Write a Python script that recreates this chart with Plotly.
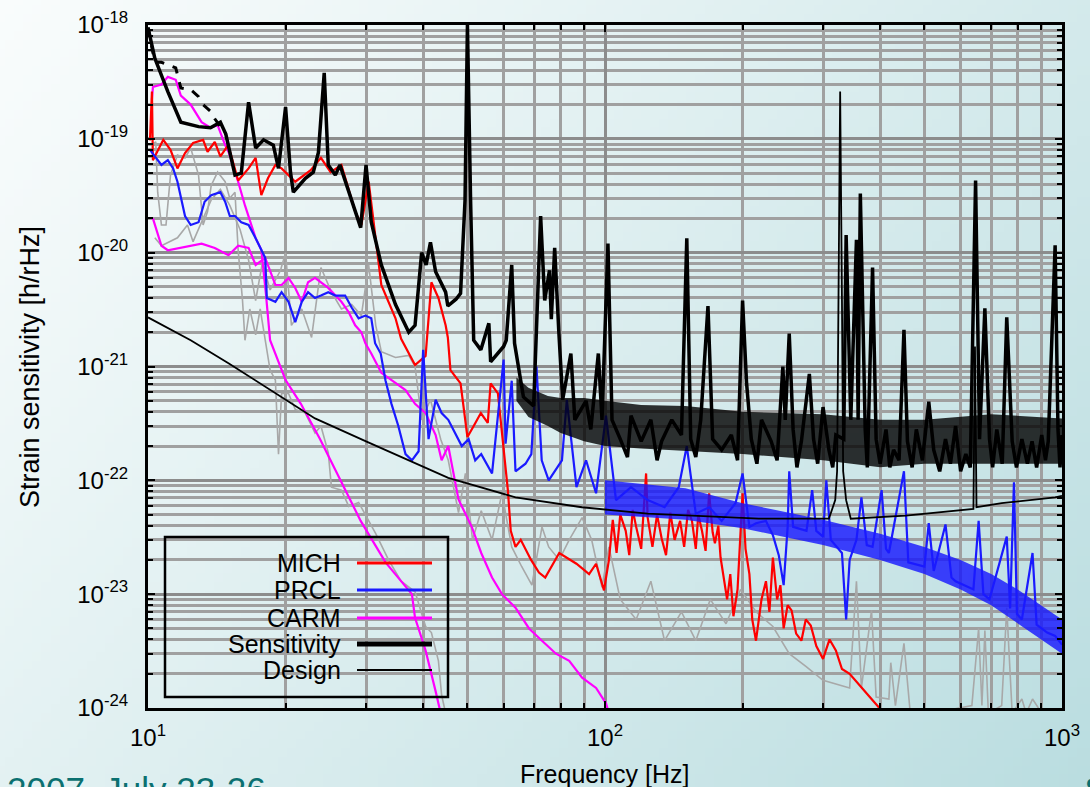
import base64, struct, zlib
import plotly.graph_objects as go

# ---------------- data (frequency [Hz], strain [1/rtHz]) ----------------
sensitivity = [
    (10.0, 9.5e-19), (10.35, 5.1e-19), (11.05, 2.6e-19), (11.8, 1.4e-19), (12.9, 1.28e-19),
    (13.7, 1.25e-19), (14.4, 1.4e-19), (14.8, 1.1e-19), (15.5, 4.8e-20), (16.0, 5.0e-20),
    (16.6, 2.1e-19), (17.2, 8.3e-20), (17.9, 9.8e-20), (18.8, 8.8e-20), (19.3, 5.5e-20),
    (20.0, 1.9e-19), (20.5, 5.1e-20), (20.8, 3.4e-20), (22.1, 4.5e-20), (23.0, 5.1e-20),
    (23.6, 7.6e-20), (24.3, 3.8e-19), (24.8, 5.9e-20), (25.7, 4.8e-20), (26.3, 5.9e-20),
    (27.5, 3.4e-20), (29.2, 1.66e-20), (30.0, 5.9e-20), (30.8, 1.86e-20), (32.4, 7.8e-21),
    (34.8, 3.5e-21), (37.2, 2.0e-21), (38.4, 2.3e-21), (39.7, 1.0e-20), (40.6, 7.8e-21),
    (41.5, 1.23e-20), (42.6, 6.8e-21), (44.8, 4.5e-21), (45.3, 3.4e-21), (47.2, 3.9e-21),
    (48.3, 4.4e-21), (49.4, 2.9e-20), (50.0, 1.0e-18), (50.8, 2.9e-20), (51.6, 1.7e-21),
    (53.5, 1.4e-21), (55.7, 2.4e-21), (56.2, 1.1e-21), (60.0, 1.5e-21), (60.8, 1.7e-21),
    (62.5, 7.8e-21), (63.4, 1.6e-21), (66.3, 5.4e-22), (69.8, 4.5e-22), (72.3, 2.1e-20),
    (73.8, 3.8e-21), (75.6, 7.0e-21), (76.3, 2.6e-21), (77.6, 1.1e-20), (79.2, 2.1e-21),
    (80.8, 5.1e-22), (84.2, 1.3e-21), (85.9, 3.4e-22), (90.9, 5.0e-22), (93.1, 2.8e-22),
    (96.7, 1.3e-21), (98.5, 3.4e-22), (101.5, 1.2e-20), (103.6, 3.4e-22), (108, 2.3e-22),
    (112, 1.6e-22), (114, 3.7e-22), (120, 2.2e-22), (126, 3.4e-22), (130, 1.5e-22),
    (133, 2.2e-22), (140, 3.4e-22), (147, 2.5e-22), (151, 1.34e-20), (154, 2.3e-22),
    (158, 1.6e-22), (162, 3.4e-22), (168, 3.4e-21), (172, 2.3e-22), (180, 1.85e-22),
    (189, 2.5e-22), (195, 1.5e-22), (200, 3.8e-21), (204, 7.3e-22), (209, 2.3e-22),
    (215, 1.4e-22), (220, 3.4e-22), (231, 2.2e-22), (238, 1.5e-22), (245, 1.0e-21),
    (248, 3.4e-22), (253, 1.95e-21), (258, 2.8e-22), (263, 1.3e-22), (269, 2.2e-22),
    (280, 8.6e-22), (286, 2.3e-22), (292, 1.4e-22), (300, 4.4e-22), (309, 1.85e-22),
    (315, 1.3e-22), (320, 2.5e-22), (333, 2.3e-22), (337, 1.43e-20), (345, 3.4e-22),
    (355, 1.3e-20), (358, 3.4e-22), (362, 3.3e-20), (371, 2.8e-22), (375, 1.3e-22),
    (385, 7.4e-21), (392, 2.3e-22), (400, 1.4e-22), (412, 2.8e-22), (420, 1.3e-22),
    (428, 1.85e-22), (440, 1.5e-22), (451, 2.1e-21), (459, 2.2e-22), (470, 1.3e-22),
    (480, 2.8e-22), (495, 1.5e-22), (511, 4.9e-22), (524, 1.85e-22), (540, 1.2e-22),
    (556, 2.3e-22), (570, 1.4e-22), (585, 3.0e-22), (600, 1.2e-22), (616, 1.7e-22),
    (630, 1.3e-22), (647, 4.3e-20), (660, 2.3e-22), (678, 3.25e-21), (694, 2.3e-22),
    (705, 1.3e-22), (720, 2.8e-22), (740, 1.4e-22), (757, 2.7e-21), (778, 2.2e-22),
    (795, 1.3e-22), (817, 2.3e-22), (840, 1.4e-22), (860, 2.2e-22), (880, 1.3e-22),
    (903, 2.5e-22), (920, 1.5e-22), (933, 2.2e-22), (966, 1.16e-20), (980, 2.8e-22),
    (990, 1.3e-22), (1000, 2.5e-22),
]

# upper / lower edges of the dense noise band of the sensitivity curve
sens_band_upper = [
    (64, 8.0e-22), (68, 6.5e-22), (75, 5.5e-22), (80, 5.3e-22), (90, 5.3e-22),
    (100, 5.0e-22), (120, 4.6e-22), (150, 4.5e-22), (200, 4.0e-22), (300, 3.8e-22),
    (400, 3.4e-22), (500, 3.4e-22), (700, 3.8e-22), (1000, 3.5e-22),
]
sens_band_lower = [
    (64, 5.0e-22), (68, 3.6e-22), (75, 3.0e-22), (80, 2.6e-22), (90, 2.2e-22),
    (100, 2.0e-22), (120, 1.9e-22), (150, 1.8e-22), (200, 1.7e-22), (300, 1.5e-22),
    (400, 1.3e-22), (500, 1.4e-22), (700, 1.4e-22), (1000, 1.4e-22),
]

sensitivity_b = [
    (10.0, 9.5e-19), (10.35, 4.7e-19), (10.7, 4.7e-19), (11.5, 4.2e-19), (11.8, 2.8e-19),
    (12.4, 2.7e-19), (12.9, 2.35e-19), (13.2, 2.0e-19), (13.7, 1.75e-19), (14.0, 1.5e-19),
    (14.8, 1.1e-19),
]

design = [
    (10, 2.7e-21), (12.4, 1.7e-21), (15, 1.07e-21), (19, 5.8e-22), (23.2, 3.5e-22),
    (30, 2.2e-22), (38.5, 1.42e-22), (45.4, 1.05e-22), (63.7, 7.1e-23), (89, 5.8e-23),
    (124, 5.1e-23), (217, 4.6e-23), (309, 4.6e-23), (319, 6.7e-23), (322, 1.2e-22),
    (324, 3.8e-21), (327, 2.6e-19), (330, 3.8e-21), (332, 1.2e-22), (337, 6.7e-23),
    (345, 4.6e-23), (455, 4.9e-23), (620, 5.5e-23), (640, 5.6e-23), (645, 1.5e-21),
    (650, 5.8e-23), (738, 6.3e-23), (860, 6.7e-23), (966, 7.1e-23), (1000, 7.3e-23),
]

mich = [
    (10.1, 9.7e-20), (10.2, 2.6e-19), (10.25, 6.5e-20), (10.8, 9.8e-20), (11.2, 8.0e-20),
    (11.6, 5.5e-20), (12.05, 7.5e-20), (12.55, 9.2e-20), (13.2, 9.8e-20), (13.5, 7.7e-20),
    (14.0, 9.4e-20), (14.4, 7.0e-20), (14.98, 8.8e-20), (15.75, 4.3e-20), (16.6, 5.5e-20),
    (17.2, 6.8e-20), (17.7, 3.2e-20), (18.3, 4.5e-20), (19.0, 5.9e-20), (19.6, 5.5e-20),
    (21.0, 4.2e-20), (22.7, 5.3e-20), (23.9, 6.8e-20), (25.1, 5.1e-20), (26.5, 5.9e-20),
    (28.4, 2.3e-20), (29.3, 1.75e-20), (30.4, 4.2e-20), (32.4, 5.2e-21), (34.8, 2.65e-21),
    (35.8, 1.75e-21), (38.4, 1.03e-21), (40.5, 1.24e-21), (41.7, 5.5e-21), (43.2, 4.0e-21),
    (44.8, 2.3e-21), (45.3, 1.8e-21), (45.9, 9.3e-22), (48.3, 7.1e-22), (50.0, 2.4e-22),
    (51.6, 3.0e-22), (53.5, 3.9e-22), (55.4, 3.2e-22), (56.2, 7.1e-22), (58.3, 5.8e-22),
    (59.2, 3.2e-22), (61.3, 8.2e-23), (62.2, 3.6e-23), (63.7, 2.6e-23), (65.4, 3.0e-23),
    (68.9, 2.0e-23), (71.7, 1.55e-23), (74.0, 1.4e-23), (79.4, 2.3e-23), (86.6, 1.85e-23),
    (92.3, 1.5e-23), (95.6, 1.85e-23), (99.5, 1.08e-23), (102, 2.0e-23), (104, 4.5e-23),
    (106, 2.3e-23), (108, 5.0e-23), (111, 3.6e-23), (113, 2.2e-23), (115, 5.5e-23),
    (117, 3.9e-23), (120, 2.5e-23), (123, 1.15e-22), (124, 4.7e-23), (127, 2.6e-23),
    (130, 5.0e-23), (133, 3.1e-23), (136, 2.2e-23), (139, 5.2e-23), (142, 3.0e-23),
    (146, 4.4e-23), (149, 2.6e-23), (152, 5.5e-23), (155, 4.4e-23), (158, 2.5e-23),
    (160, 5.0e-23), (163, 3.6e-23), (166, 2.4e-23), (169, 7.7e-23), (172, 3.5e-23),
    (174, 2.8e-23), (177, 4.0e-23), (179, 2.1e-23), (182, 1.3e-23), (185, 9.0e-24),
    (188, 1.5e-23), (191, 6.4e-24), (195, 1.1e-23), (200, 7.7e-23), (203, 2.5e-23),
    (207, 1.5e-23), (210, 6.0e-24), (214, 3.9e-24), (220, 9.0e-24), (225, 1.3e-23),
    (229, 7.0e-24), (233, 2.1e-23), (238, 9.0e-24), (242, 1.2e-23), (246, 5.0e-24),
    (251, 8.0e-24), (256, 7.2e-24), (262, 4.5e-24), (269, 3.9e-24), (275, 6.0e-24),
    (282, 5.3e-24), (290, 3.5e-24), (300, 2.7e-24), (310, 4.0e-24), (320, 3.2e-24),
    (330, 2.2e-24), (343, 2.0e-24), (364, 1.5e-24), (383, 1.2e-24), (403, 9.5e-25),
]

prcl = [
    (10.1, 8.0e-20), (10.7, 5.9e-20), (11.05, 6.5e-20), (11.35, 5.5e-20), (11.6, 4.2e-20),
    (12.05, 2.1e-20), (12.4, 1.75e-20), (12.9, 1.85e-20), (13.3, 2.8e-20), (13.75, 3.2e-20),
    (14.4, 3.4e-20), (14.75, 2.8e-20), (15.1, 2.1e-20), (15.5, 2.1e-20), (16.0, 1.85e-20),
    (16.6, 1.75e-20), (17.2, 1.34e-20), (17.7, 1.06e-20), (18.05, 9.0e-21), (18.2, 4.0e-21),
    (19.0, 3.7e-21), (19.6, 4.5e-21), (20.3, 3.7e-21), (21.0, 2.45e-21), (21.7, 3.7e-21),
    (22.4, 4.5e-21), (23.2, 4.0e-21), (23.9, 4.2e-21), (24.8, 4.5e-21), (25.7, 4.2e-21),
    (27.0, 4.2e-21), (27.9, 3.3e-21), (28.9, 2.65e-21), (29.9, 2.8e-21), (30.8, 2.65e-21),
    (31.4, 1.6e-21), (32.3, 1.3e-21), (33.1, 7.5e-22), (34.1, 4.7e-22), (35.3, 3.0e-22),
    (36.6, 1.7e-22), (37.8, 1.5e-22), (39.1, 1.8e-22), (40.0, 1.4e-21), (41.1, 2.3e-22),
    (42.6, 5.1e-22), (43.9, 3.9e-22), (45.4, 3.4e-22), (48.6, 2.0e-22), (50.3, 2.3e-22),
    (52.0, 1.5e-22), (53.6, 1.7e-22), (56.6, 1.15e-22), (60.0, 1.15e-21), (60.6, 2.1e-22),
    (62.5, 7.5e-22), (63.7, 1.2e-22), (67.0, 1.4e-22), (69.0, 1.7e-22), (70.8, 1.0e-21),
    (72.7, 1.5e-22), (75.3, 1.0e-22), (80.5, 1.5e-22), (82.5, 5.1e-22), (86.6, 8.7e-23),
    (90.9, 1.5e-22), (95.6, 7.7e-23), (100.5, 3.7e-22), (105.7, 6.7e-23), (114, 8.7e-23),
    (124, 6.7e-23), (135, 5.8e-23), (145, 8.7e-23), (151, 2.0e-22), (158, 5.1e-23),
    (169, 5.8e-23), (180, 4.4e-23), (193, 6.3e-23), (200, 1.15e-22), (207, 3.9e-23),
    (214, 4.2e-23), (225, 4.4e-23), (233, 3.3e-23), (240, 2.2e-23), (246, 1.2e-23),
    (251, 3.9e-23), (253, 1.2e-22), (258, 3.9e-23), (276, 3.6e-23), (284, 8.2e-23),
    (290, 3.6e-23), (300, 3.2e-23), (305, 1.0e-22), (312, 3.0e-23), (330, 2.3e-23),
    (337, 6.0e-24), (343, 2.0e-23), (355, 3.0e-23), (364, 7.1e-23), (374, 2.7e-23),
    (385, 2.6e-23), (403, 8.2e-23), (412, 2.5e-23), (418, 2.3e-23), (451, 1.2e-22),
    (461, 1.9e-23), (500, 1.75e-23), (511, 4.2e-23), (524, 1.6e-23), (556, 4.1e-23),
    (573, 1.4e-23), (585, 1.3e-23), (640, 1.1e-23), (657, 4.4e-23), (673, 1.0e-23),
    (694, 9.0e-24), (757, 3.2e-23), (770, 7.5e-24), (785, 9.6e-23), (797, 6.7e-24),
    (817, 6.0e-24), (862, 2.3e-23), (880, 5.4e-24), (928, 4.6e-24), (966, 4.3e-24),
    (1000, 3.6e-24),
]
prcl_band_upper = [
    (100, 1.0e-22), (150, 8.5e-23), (200, 6.3e-23), (300, 4.5e-23), (400, 3.4e-23),
    (500, 2.6e-23), (600, 2.0e-23), (700, 1.5e-23), (800, 1.1e-23), (900, 8.0e-24),
    (1000, 6.0e-24),
]
prcl_band_lower = [
    (100, 5.0e-23), (150, 4.5e-23), (200, 3.8e-23), (300, 2.7e-23), (400, 2.0e-23),
    (500, 1.5e-23), (600, 1.1e-23), (700, 8.0e-24), (800, 5.5e-24), (900, 4.0e-24),
    (1000, 3.0e-24),
]

carm_a = [
    (10.2, 2.2e-19), (10.25, 2.85e-19), (10.7, 3.0e-19), (11.05, 3.5e-19), (11.5, 3.3e-19),
    (11.8, 2.4e-19), (12.4, 2.0e-19), (13.1, 1.4e-19), (13.7, 1.25e-19), (14.2, 1.32e-19),
    (14.75, 8.8e-20), (15.0, 7.7e-20), (15.75, 4.2e-20), (16.3, 2.6e-20), (17.2, 1.34e-20),
    (17.7, 1.06e-20), (18.1, 4.5e-21), (18.5, 1.7e-21), (20.0, 7.6e-22), (21.6, 4.7e-22),
    (23.8, 2.3e-22), (26.4, 1.0e-22), (29.2, 4.4e-23), (33.1, 1.9e-23), (35.8, 1.3e-23),
    (37.8, 1.0e-23), (38.4, 6.2e-24), (40.5, 3.2e-24), (42.6, 1.4e-24), (43.7, 9.0e-25),
]

carm_b = [
    (10.25, 2.0e-20), (10.5, 1.5e-20), (10.7, 1.15e-20), (11.05, 1.05e-20), (11.8, 1.1e-20),
    (12.4, 1.15e-20), (13.1, 1.2e-20), (14.0, 1.1e-20), (15.0, 9.5e-21), (15.75, 1.15e-20),
    (16.6, 1.1e-20), (17.2, 7.8e-21), (18.05, 9.0e-21), (19.0, 5.2e-21), (19.6, 5.2e-21),
    (20.3, 6.0e-21), (21.0, 4.9e-21), (21.7, 3.7e-21), (22.4, 5.5e-21), (23.2, 6.0e-21),
    (23.9, 5.5e-21), (24.8, 4.9e-21), (26.5, 3.7e-21), (27.5, 3.0e-21), (28.4, 2.3e-21),
    (29.3, 2.0e-21), (29.9, 1.6e-21), (30.8, 1.3e-21), (32.4, 8.8e-22), (34.8, 7.1e-22),
    (36.6, 6.2e-22), (38.4, 4.7e-22), (40.5, 3.9e-22), (42.6, 2.5e-22), (43.9, 1.5e-22),
    (45.4, 2.0e-22), (47.8, 6.8e-23), (51.1, 3.9e-23), (53.6, 2.3e-23), (56.6, 1.4e-23),
    (59.5, 1.0e-23), (63.7, 7.6e-24), (68.2, 5.0e-24), (72.8, 3.9e-24), (78.1, 3.0e-24),
    (83.5, 2.6e-24), (89.1, 1.85e-24), (95.6, 1.5e-24), (100.5, 1.1e-24), (102, 9.0e-25),
]

gray_a = [
    (10.15, 8.8e-20), (10.4, 9.4e-20), (10.5, 3.4e-20), (10.7, 1.75e-20), (10.95, 1.75e-20),
    (11.2, 4.8e-20), (11.6, 7.2e-20), (12.05, 6.8e-20), (12.4, 8.3e-20), (12.9, 4.8e-20),
    (13.2, 1.75e-20), (13.5, 2.3e-20), (13.75, 3.9e-20), (14.2, 5.1e-20), (14.75, 4.2e-20),
    (15.1, 3.0e-20), (15.5, 3.4e-20), (15.75, 1.05e-20), (16.1, 3.8e-21), (16.3, 1.7e-21),
    (16.7, 3.2e-21), (17.2, 1.9e-21), (17.6, 3.2e-21), (18.1, 1.55e-21), (18.5, 9.3e-22),
    (19.0, 7.6e-22), (19.3, 1.7e-22), (19.6, 5.8e-22), (20.3, 5.8e-22), (21.0, 4.2e-22),
    (22.1, 3.9e-22), (23.2, 2.6e-22), (23.9, 3.0e-22), (24.8, 1.75e-22), (25.2, 8.7e-23),
    (26.5, 8.2e-23), (27.5, 5.9e-23), (28.9, 6.4e-23), (30.4, 4.4e-23), (31.5, 3.4e-23),
    (33.6, 2.0e-23), (35.8, 1.3e-23), (38.4, 1.05e-23), (40.5, 5.2e-24), (41.7, 4.6e-24),
    (43.2, 2.6e-24), (43.9, 1.3e-24), (44.8, 9.0e-25),
]

gray_b = [
    (10.35, 1.35e-20), (10.7, 1.15e-20), (11.6, 1.35e-20), (12.2, 1.75e-20), (12.55, 1.25e-20),
    (12.9, 1.6e-20), (13.3, 2.1e-20), (13.75, 2.9e-20), (14.4, 3.6e-20), (15.1, 2.6e-20),
    (15.9, 1.6e-20), (16.6, 8.6e-21), (17.2, 3.8e-21), (17.8, 8.2e-21), (18.5, 4.7e-21),
    (19.5, 7.0e-21), (20.0, 1.0e-20), (20.6, 2.3e-21), (21.7, 3.2e-21), (22.8, 1.8e-21),
    (23.9, 7.4e-21), (25.2, 4.5e-21), (26.5, 3.2e-21), (27.9, 3.5e-21), (29.3, 2.8e-21),
    (30.4, 7.8e-21), (31.5, 2.3e-21), (32.4, 1.35e-21), (34.8, 1.2e-21), (37.2, 1.25e-21),
    (38.4, 1.0e-21), (39.7, 3.4e-22), (41.5, 5.1e-22), (43.7, 2.3e-22), (45.4, 1.5e-22),
    (47.8, 5.2e-23), (49.5, 1.15e-22), (51.3, 3.0e-23), (53.6, 5.4e-23), (56.6, 3.0e-23),
    (59.5, 7.7e-23), (62.5, 2.6e-23), (65.7, 1.75e-23), (69.2, 1.2e-23), (72.8, 3.9e-23),
    (75.3, 2.6e-23), (79.4, 2.0e-23), (83.5, 3.0e-23), (89.1, 4.7e-23), (93.5, 3.0e-23),
    (98.5, 1.15e-23), (102, 2.6e-23), (108, 9.0e-24), (117, 6.0e-24), (126, 1.3e-23),
    (135, 3.9e-24), (147, 7.0e-24), (158, 3.9e-24), (170, 9.0e-24), (184, 5.5e-24),
    (198, 1.1e-23), (214, 7.0e-24), (233, 5.2e-24), (253, 3.0e-24), (276, 2.3e-24),
    (300, 1.75e-24), (343, 1.5e-24), (355, 1.3e-23), (364, 1.5e-24), (383, 7.2e-24),
    (392, 1.25e-24), (418, 1.2e-24), (422, 2.5e-24), (432, 1.05e-24), (451, 3.7e-24),
    (465, 9.5e-25), (520, 9.0e-25), (635, 1.05e-24), (657, 5.0e-24), (668, 1.05e-24),
    (678, 4.8e-24), (690, 9.0e-25), (738, 1.05e-24), (757, 7.6e-24), (778, 9.0e-25),
    (817, 1.2e-24), (835, 9.0e-25), (862, 1.2e-24), (903, 9.0e-25), (1000, 9.0e-25),
]

legend_names = ["MICH", "PRCL", "CARM", "Sensitivity", "Design"]
x_tick_vals = [10, 100, 1000]
x_tick_text = ["10<sup>1</sup>", "10<sup>2</sup>", "10<sup>3</sup>"]
y_exponents = [-24, -23, -22, -21, -20, -19, -18]

# ---------------- styling ----------------
RED, BLUE, MAG, GRAY, BLACK = "#ff0000", "#1a1aff", "#ff00ff", "#a8a8a8", "#000000"
FONT = "Liberation Sans, Arial, Helvetica, sans-serif"

W, H = 1090, 787
ML, MR, MT, MB = 148, 28, 25, 79
PW, PH = W - ML - MR, H - MT - MB


def px(xp):
    return (xp - ML) / PW


def py(yp):
    return (H - MB - yp) / PH


def split(pairs):
    return [p[0] for p in pairs], [p[1] for p in pairs]


# background gradient image (slide background)
def gradient_png(w, h):
    c0 = (249, 252, 252)
    c1 = (186, 221, 224)
    rows = []
    for j in range(h):
        row = bytearray([0])
        v = j / (h - 1)
        for i in range(w):
            u = i / (w - 1)
            t = min(1.0, max(0.0, 0.62 * u + 0.38 * v))
            t = t ** 1.1
            row += bytes(int(round(c0[k] + (c1[k] - c0[k]) * t)) for k in range(3))
        rows.append(bytes(row))
    raw = b"".join(rows)

    def chunk(tag, data):
        return (struct.pack(">I", len(data)) + tag + data
                + struct.pack(">I", zlib.crc32(tag + data) & 0xFFFFFFFF))

    return (b"\x89PNG\r\n\x1a\n"
            + chunk(b"IHDR", struct.pack(">IIBBBBB", w, h, 8, 2, 0, 0, 0))
            + chunk(b"IDAT", zlib.compress(raw, 9))
            + chunk(b"IEND", b""))


bg_uri = "data:image/png;base64," + base64.b64encode(gradient_png(120, 90)).decode()

fig = go.Figure()


def add(pairs, color, width, dash="solid"):
    f, h = split(pairs)
    fig.add_trace(go.Scatter(x=f, y=h, mode="lines", showlegend=False,
                             line=dict(color=color, width=width, dash=dash),
                             hoverinfo="skip"))


def add_band(upper, lower, fillcolor):
    fu, hu = split(upper)
    fl, hl = split(lower)
    fig.add_trace(go.Scatter(x=fu + fl[::-1], y=hu + hl[::-1], mode="lines",
                             fill="toself", fillcolor=fillcolor,
                             line=dict(width=0, color=fillcolor),
                             showlegend=False, hoverinfo="skip"))


add(gray_b, GRAY, 1.6)
add(gray_a, GRAY, 1.6)
add(carm_b, MAG, 2.2)
add(carm_a, MAG, 2.2)
add(mich, RED, 2.2)
add_band(prcl_band_upper, prcl_band_lower, "rgba(20,20,255,0.8)")
add(prcl, BLUE, 2.2)
add_band(sens_band_upper, sens_band_lower, "rgba(0,0,0,0.8)")
add(sensitivity_b, BLACK, 3, "dash")
add(sensitivity, BLACK, 3.5)
add(design, BLACK, 1.8)

minor_x = [k * 10 for k in range(2, 10)] + [k * 100 for k in range(2, 10)]
minor_y = [k * 10.0 ** e for e in range(-24, -18) for k in range(2, 10)]

axis_common = dict(
    type="log", automargin=False, showline=True, linecolor="black", linewidth=3,
    mirror="allticks", ticks="inside", ticklen=7, tickwidth=2, tickcolor="black",
    showgrid=True, gridcolor="#8c8c8c", gridwidth=2.5, zeroline=False,
    tickfont=dict(family=FONT, size=24, color="black"),
)

fig.update_xaxes(
    range=[1, 3], tickvals=x_tick_vals, ticktext=x_tick_text, ticklabelstandoff=6,
    minor=dict(tickvals=minor_x, showgrid=True, gridcolor="#a0a0a0", gridwidth=2.5,
               ticks="inside", ticklen=5, tickcolor="black"),
    **axis_common)
fig.update_yaxes(
    range=[-24, -18], tickvals=[10.0 ** e for e in y_exponents],
    ticktext=[f"10<sup>{e}</sup>" for e in y_exponents], ticklabelstandoff=12,
    minor=dict(tickvals=minor_y, showgrid=True, gridcolor="#a0a0a0", gridwidth=2.5,
               ticks="inside", ticklen=5, tickcolor="black"),
    **axis_common)

shapes = []
annotations = []

# legend box (drawn manually: labels on the left, line samples on the right)
shapes.append(dict(type="rect", xref="paper", yref="paper",
                   x0=px(165), x1=px(448), y0=py(697), y1=py(537),
                   line=dict(color="black", width=2.5), fillcolor="rgba(0,0,0,0)",
                   layer="above"))
legend_styles = [(RED, 3), (BLUE, 3), (MAG, 3), (BLACK, 5), (BLACK, 2)]
legend_rows = [563, 590, 618, 644, 670]
for name, (col, wid), yr in zip(legend_names, legend_styles, legend_rows):
    shapes.append(dict(type="line", xref="paper", yref="paper",
                       x0=px(357), x1=px(432), y0=py(yr), y1=py(yr),
                       line=dict(color=col, width=wid), layer="above"))
    annotations.append(dict(text=name, xref="paper", yref="paper",
                            x=px(343), y=py(yr), xanchor="right", yanchor="middle",
                            showarrow=False,
                            font=dict(family=FONT, size=25, color="black")))

# axis titles
annotations.append(dict(text="Strain sensitivity [h/rHz]", xref="paper", yref="paper",
                        x=px(30), y=py(367), xanchor="center", yanchor="middle",
                        textangle=-90, showarrow=False,
                        font=dict(family=FONT, size=27, color="black")))
annotations.append(dict(text="Frequency [Hz]", xref="paper", yref="paper",
                        x=px(605), y=py(774), xanchor="center", yanchor="middle",
                        showarrow=False,
                        font=dict(family=FONT, size=25, color="black")))
# slide footer texts
annotations.append(dict(text="2007, July 23-26", xref="paper", yref="paper",
                        x=px(5), y=py(768), xanchor="left", yanchor="top",
                        showarrow=False,
                        font=dict(family=FONT, size=35, color="#0b7070")))
annotations.append(dict(text="8", xref="paper", yref="paper",
                        x=px(1083), y=py(768), xanchor="left", yanchor="top",
                        showarrow=False,
                        font=dict(family=FONT, size=35, color="#0b7070")))

fig.update_layout(
    width=W, height=H,
    margin=dict(l=ML, r=MR, t=MT, b=MB, pad=0, autoexpand=False),
    paper_bgcolor="#dcefef", plot_bgcolor="rgba(0,0,0,0)",
    showlegend=False,
    shapes=shapes, annotations=annotations,
    images=[dict(source=bg_uri, xref="paper", yref="paper",
                 x=-ML / PW, y=1 + MT / PH, sizex=W / PW, sizey=H / PH,
                 xanchor="left", yanchor="top", sizing="stretch", layer="below")],
    font=dict(family=FONT, color="black"),
)

fig.write_html(
    "out.html",
    config={"displayModeBar": False},
    post_script="document.body.style.margin='0px';document.body.style.overflow='hidden';",
)
